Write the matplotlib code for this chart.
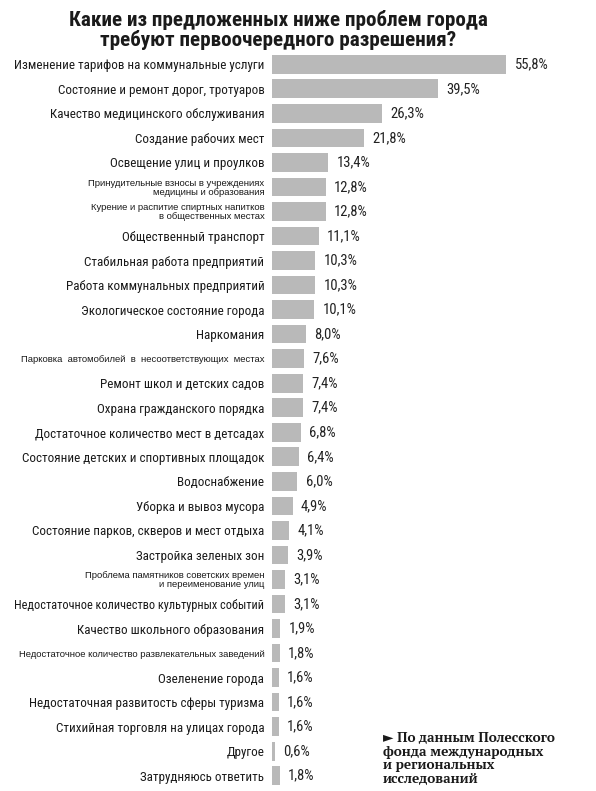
import matplotlib
matplotlib.use("Agg")
import matplotlib.pyplot as plt
from matplotlib import font_manager as fm

names = {f.name for f in fm.fontManager.ttflist}
def pick(*cands):
    for c in cands:
        if c in names:
            return c
    return "DejaVu Sans"

narrow = pick("Roboto Condensed", "PT Sans Narrow", "Archivo Narrow", "DejaVu Sans")
smallf = pick("Liberation Sans", "Roboto", "DejaVu Sans")
serif = pick("PT Serif", "Noto Serif", "DejaVu Serif")

categories = [
    "Изменение тарифов на коммунальные услуги",
    "Состояние и ремонт дорог, тротуаров",
    "Качество медицинского обслуживания",
    "Создание рабочих мест",
    "Освещение улиц и проулков",
    "Принудительные взносы в учреждениях\nмедицины и образования",
    "Курение и распитие спиртных напитков\nв общественных местах",
    "Общественный транспорт",
    "Стабильная работа предприятий",
    "Работа коммунальных предприятий",
    "Экологическое состояние города",
    "Наркомания",
    "Парковка  автомобилей  в  несоответствующих  местах",
    "Ремонт школ и детских садов",
    "Охрана гражданского порядка",
    "Достаточное количество мест в детсадах",
    "Состояние детских и спортивных площадок",
    "Водоснабжение",
    "Уборка и вывоз мусора",
    "Состояние парков, скверов и мест отдыха",
    "Застройка зеленых зон",
    "Проблема памятников советских времен\nи переименование улиц",
    "Недостаточное количество культурных событий",
    "Качество школьного образования",
    "Недостаточное количество развлекательных заведений",
    "Озеленение города",
    "Недостаточная развитость сферы туризма",
    "Стихийная торговля на улицах города",
    "Другое",
    "Затрудняюсь ответить",
]
values = [55.8, 39.5, 26.3, 21.8, 13.4, 12.8, 12.8, 11.1, 10.3, 10.3, 10.1,
          8.0, 7.6, 7.4, 7.4, 6.8, 6.4, 6.0, 4.9, 4.1, 3.9, 3.1, 3.1, 1.9,
          1.8, 1.6, 1.6, 1.6, 0.6, 1.8]
value_labels = ["55,8%", "39,5%", "26,3%", "21,8%", "13,4%", "12,8%", "12,8%",
                "11,1%", "10,3%", "10,3%", "10,1%", "8,0%", "7,6%", "7,4%",
                "7,4%", "6,8%", "6,4%", "6,0%", "4,9%", "4,1%", "3,9%", "3,1%",
                "3,1%", "1,9%", "1,8%", "1,6%", "1,6%", "1,6%", "0,6%", "1,8%"]
title = "Какие из предложенных ниже проблем города\nтребуют первоочередного разрешения?"
source = "► По данным Полесского\nфонда международных\nи региональных\nисследований"

small_labels = {5, 6, 12, 21, 24}

W, H = 596, 791
fig = plt.figure(figsize=(W / 100, H / 100), dpi=100)
ax = fig.add_axes([272 / W, 1 - 788 / H, 1 - 272 / W, (788 - 52) / H])

y = list(range(len(categories)))
bars = ax.barh(y, values, height=0.76, color="#b9b9b9", edgecolor="none")
ax.bar_label(bars, labels=value_labels, padding=6, fontsize=10.5,
             family=narrow, color="#222222")
ax.set_ylim(len(categories) - 0.5, -0.5)
ax.set_xlim(0, (W - 272) / 4.2)
ax.set_yticks(y)
ax.set_yticklabels(categories)
ax.tick_params(axis="y", length=0, pad=5.5)
ax.set_xticks([])
for i, t in enumerate(ax.get_yticklabels()):
    t.set_color("#1a1a1a")
    if i in small_labels:
        t.set_family(smallf)
        t.set_fontstretch("condensed")
        t.set_fontsize(6.8)
        t.set_linespacing(1.0)
    else:
        t.set_family(narrow)
        t.set_fontsize(9.4)
for s in ax.spines.values():
    s.set_visible(False)

# shrink any label that would run past the left margin
fig.canvas.draw()
renderer = fig.canvas.get_renderer()
for t in ax.get_yticklabels():
    bb = t.get_window_extent(renderer)
    if bb.x0 < 14:
        avail = bb.x1 - 14
        t.set_fontsize(t.get_fontsize() * avail / bb.width)

for s in ax.spines.values():
    s.set_visible(False)

fig.text(278 / W, 1 - 30 / H, title, ha="center", va="center", fontsize=15.2,
         fontweight="bold", family=narrow, color="#1a1a1a", linespacing=1.0)
fig.text(383 / W, 1 - 759 / H, source, ha="left", va="center", fontsize=9.8,
         fontweight="bold", family=[serif, "DejaVu Sans"], color="#1a1a1a",
         linespacing=1.05)

fig.savefig("out.png", dpi=100)
